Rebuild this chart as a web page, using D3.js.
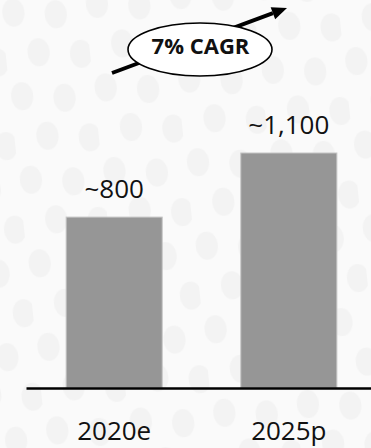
<!DOCTYPE html>
<html>
<head>
<meta charset="utf-8">
<script src="https://cdn.jsdelivr.net/npm/d3@7"></script>
<style>
  html, body { margin: 0; padding: 0; background: #fafafa; }
  svg { display: block; }
</style>
</head>
<body>
<div id="chart"></div>
<script>
// Market size estimate vs. projection
const categories = ["2020e", "2025p"];
const values = [800, 1100];
const valueLabels = ["~800", "~1,100"];
const growthLabel = "7% CAGR";

const W = 371, H = 448;
const svg = d3.select("#chart").append("svg")
  .attr("width", W).attr("height", H);

// faint dotted backdrop
const defs = svg.append("defs");
const pat = defs.append("pattern")
  .attr("id", "dots").attr("patternUnits", "userSpaceOnUse")
  .attr("width", 84).attr("height", 84)
  .attr("patternTransform", "rotate(-6)");
pat.append("rect").attr("width", 84).attr("height", 84).attr("fill", "#fafafa");
[[12, 14], [54, 20], [33, 56], [75, 62]].forEach(([cx, cy]) => {
  pat.append("ellipse").attr("cx", cx).attr("cy", cy)
    .attr("rx", 11).attr("ry", 14).attr("fill", "#f3f3f3");
});
svg.append("rect").attr("width", W).attr("height", H).attr("fill", "url(#dots)");

const x = d3.scaleBand()
  .domain(categories)
  .range([26, 377])
  .paddingInner(0.45)
  .paddingOuter(0.23);

const y = d3.scaleLinear()
  .domain([0, 1100])
  .range([388, 153]);

// bars
svg.append("g").selectAll("rect")
  .data(values)
  .join("rect")
  .attr("x", (d, i) => x(categories[i]))
  .attr("y", d => y(d))
  .attr("width", x.bandwidth())
  .attr("height", d => y(0) - y(d))
  .attr("fill", "#969696")
  .attr("stroke", "#c4c4c4")
  .attr("stroke-width", 1);

// value labels
svg.append("g").selectAll("text")
  .data(values)
  .join("text")
  .attr("x", (d, i) => x(categories[i]) + x.bandwidth() / 2)
  .attr("y", d => y(d) - 19)
  .attr("text-anchor", "middle")
  .attr("font-family", "'Open Sans', sans-serif")
  .attr("font-size", 26)
  .attr("fill", "#111")
  .text((d, i) => valueLabels[i]);

// category axis
const axis = svg.append("g")
  .attr("transform", `translate(0,${y(0)})`)
  .call(d3.axisBottom(x).tickSize(0).tickPadding(0));
axis.select(".domain").attr("stroke", "#000").attr("stroke-width", 2.4);
axis.selectAll(".tick text")
  .attr("y", 52).attr("dy", 0)
  .attr("font-family", "'Open Sans', sans-serif")
  .attr("font-size", 26)
  .attr("fill", "#111");

// growth arrow with callout
const arrowStart = [112, 73], arrowTip = [287, 8];
const ang = Math.atan2(arrowTip[1] - arrowStart[1], arrowTip[0] - arrowStart[0]);
const headLen = 15, headHalf = 6.5;
const base = [arrowTip[0] - headLen * Math.cos(ang), arrowTip[1] - headLen * Math.sin(ang)];
const g = svg.append("g");
g.append("line")
  .attr("x1", arrowStart[0]).attr("y1", arrowStart[1])
  .attr("x2", base[0]).attr("y2", base[1])
  .attr("stroke", "#000").attr("stroke-width", 4);
g.append("path")
  .attr("d", d3.line()([
    arrowTip,
    [base[0] - headHalf * Math.sin(ang), base[1] + headHalf * Math.cos(ang)],
    [base[0] + headHalf * Math.sin(ang), base[1] - headHalf * Math.cos(ang)]
  ]) + "Z")
  .attr("fill", "#000");
g.append("ellipse")
  .attr("cx", 200).attr("cy", 49.5).attr("rx", 72).attr("ry", 26.5)
  .attr("fill", "#fff").attr("stroke", "#000").attr("stroke-width", 1.6);
g.append("text")
  .attr("x", 200.5).attr("y", 53.5)
  .attr("text-anchor", "middle")
  .attr("font-family", "'Open Sans', sans-serif")
  .attr("font-weight", "bold")
  .attr("font-size", 22)
  .attr("fill", "#111")
  .text(growthLabel);
</script>
</body>
</html>
